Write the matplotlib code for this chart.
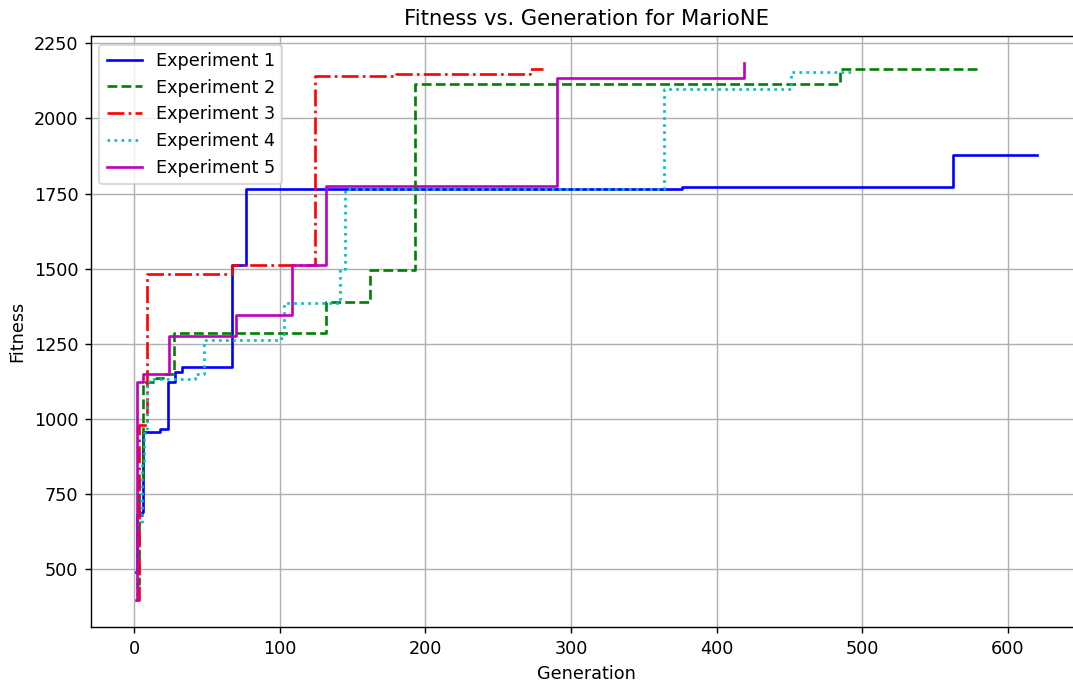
import matplotlib
matplotlib.use('Agg')
import matplotlib.pyplot as plt

# Best fitness per experiment, stored as (generation, fitness) change points
exp1_gen = [1, 2, 5, 6, 18, 23, 28, 33, 67, 77, 376, 562, 620]
exp1_fit = [490, 680, 690, 957, 966, 1122, 1157, 1172, 1512, 1765, 1772, 1877, 1877]

exp2_gen = [1, 3, 6, 15, 20, 27, 132, 162, 193, 485, 579]
exp2_fit = [450, 800, 1123, 1138, 1150, 1285, 1390, 1495, 2116, 2163, 2163]

exp3_gen = [1, 3, 9, 67, 124, 180, 272, 281]
exp3_fit = [400, 979, 1484, 1512, 2140, 2147, 2163, 2163]

exp4_gen = [1, 2, 5, 7, 9, 10, 42, 48, 101, 103, 141, 145, 364, 451, 492]
exp4_fit = [420, 650, 860, 955, 1110, 1135, 1150, 1262, 1270, 1387, 1500, 1767, 2097, 2155, 2155]

exp5_gen = [1, 2, 6, 24, 70, 108, 132, 290, 419]
exp5_fit = [397, 1123, 1149, 1275, 1345, 1512, 1775, 2133, 2185]

labels = ['Experiment 1', 'Experiment 2', 'Experiment 3', 'Experiment 4', 'Experiment 5']
styles = ['b-', 'g--', 'r-.', 'c:', 'm-']

series = [(exp1_gen, exp1_fit), (exp2_gen, exp2_fit), (exp3_gen, exp3_fit),
          (exp4_gen, exp4_fit), (exp5_gen, exp5_fit)]

dpi = 127
fig = plt.figure(figsize=(1073 / dpi, 684 / dpi), dpi=dpi)
ax = fig.add_axes([0.0845, 0.0829, 0.924, 0.8645])

for (g, f), lab, st in zip(series, labels, styles):
    ax.plot(g, f, st, label=lab, drawstyle='steps-post')

ax.set_title('Fitness vs. Generation for MarioNE')
ax.set_xlabel('Generation')
ax.set_ylabel('Fitness')
ax.grid(True)
ax.legend(loc='upper left')

fig.savefig('out.png', dpi=dpi)
plt.close()
